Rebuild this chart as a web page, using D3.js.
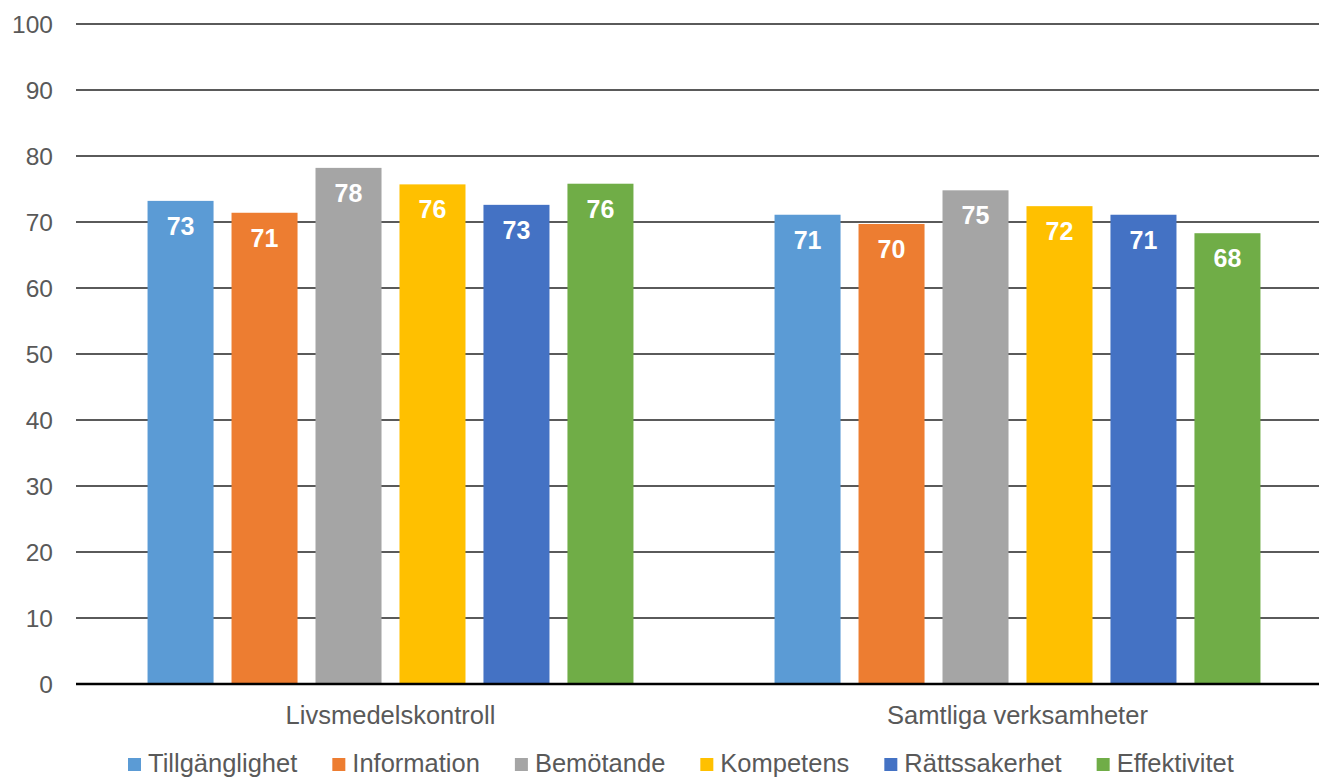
<!DOCTYPE html>
<html>
<head>
<meta charset="utf-8">
<script src="https://cdn.jsdelivr.net/npm/d3@7"></script>
<style>
  body { margin: 0; background: #fff; }
  text { font-family: "Liberation Sans", Arial, sans-serif; }
</style>
</head>
<body>
<div id="chart"></div>
<script>
var categories = ['Livsmedelskontroll', 'Samtliga verksamheter'];
var series = ['Tillgänglighet', 'Information', 'Bemötande', 'Kompetens', 'Rättssakerhet', 'Effektivitet'];
var colors = ['#5B9BD5', '#ED7D31', '#A5A5A5', '#FFC000', '#4472C4', '#70AD47'];
var livsmedel = [73.2, 71.4, 78.2, 75.7, 72.6, 75.8];
var samtliga = [71.1, 69.7, 74.8, 72.4, 71.1, 68.3];
var yTicks = [0, 10, 20, 30, 40, 50, 60, 70, 80, 90, 100];

var width = 1319, height = 779;
var values = [livsmedel, samtliga];

var svg = d3.select('#chart').append('svg')
  .attr('width', width)
  .attr('height', height);

var y = d3.scaleLinear().domain([0, 100]).range([684, 24]);
var x0 = d3.scaleBand().domain(categories).range([77, 1331]);
var x1 = d3.scaleBand().domain(series).range([0, x0.bandwidth()])
  .paddingInner(0.214).paddingOuter(0.84);

// gridlines
svg.append('g').selectAll('line')
  .data(yTicks.filter(function(d){ return d > 0 }))
  .enter().append('line')
  .attr('x1', 76).attr('x2', width)
  .attr('y1', function(d){ return y(d) }).attr('y2', function(d){ return y(d) })
  .attr('stroke', '#5a5a5a').attr('stroke-width', 1.8);

// y tick labels
svg.append('g').selectAll('text')
  .data(yTicks)
  .enter().append('text')
  .attr('x', 53)
  .attr('y', function(d){ return y(d) + 8.5 })
  .attr('text-anchor', 'end')
  .attr('font-size', 24.5)
  .attr('fill', '#595959')
  .text(function(d){ return d });

// bars
var groups = svg.append('g').selectAll('g')
  .data(categories)
  .enter().append('g')
  .attr('transform', function(d){ return 'translate(' + x0(d) + ',0)' });

groups.selectAll('rect')
  .data(function(d, i){ return series.map(function(s, j){ return {s: s, v: values[i][j], c: colors[j]} }) })
  .enter().append('rect')
  .attr('x', function(d){ return x1(d.s) })
  .attr('width', x1.bandwidth())
  .attr('y', function(d){ return y(d.v) })
  .attr('height', function(d){ return y(0) - y(d.v) })
  .attr('fill', function(d){ return d.c });

groups.selectAll('text')
  .data(function(d, i){ return series.map(function(s, j){ return {s: s, v: values[i][j]} }) })
  .enter().append('text')
  .attr('x', function(d){ return x1(d.s) + x1.bandwidth() / 2 })
  .attr('y', function(d){ return y(d.v) + 34 })
  .attr('text-anchor', 'middle')
  .attr('font-size', 25)
  .attr('font-weight', 'bold')
  .attr('fill', '#fff')
  .text(function(d){ return Math.round(d.v) });

// x axis line
svg.append('line')
  .attr('x1', 76).attr('x2', width)
  .attr('y1', y(0)).attr('y2', y(0))
  .attr('stroke', '#000').attr('stroke-width', 2.5);

// category labels
svg.append('g').selectAll('text')
  .data(categories)
  .enter().append('text')
  .attr('x', function(d){ return x0(d) + x0.bandwidth() / 2 })
  .attr('y', 724)
  .attr('text-anchor', 'middle')
  .attr('font-size', 25.5)
  .attr('fill', '#595959')
  .text(function(d){ return d });

// legend
var legend = svg.append('g');
var items = legend.selectAll('g')
  .data(series)
  .enter().append('g');
items.append('rect')
  .attr('width', 13).attr('height', 13)
  .attr('y', 758)
  .attr('fill', function(d, i){ return colors[i] });
items.append('text')
  .attr('x', 20)
  .attr('y', 772)
  .attr('font-size', 25.5)
  .attr('fill', '#595959')
  .text(function(d){ return d });

var offs = [], cur = 0;
items.each(function(){
  offs.push(cur);
  cur += 20 + d3.select(this).select('text').node().getComputedTextLength() + 35;
});
var startX = 128;
items.attr('transform', function(d, i){ return 'translate(' + (startX + offs[i]) + ',0)' });
</script>
</body>
</html>
